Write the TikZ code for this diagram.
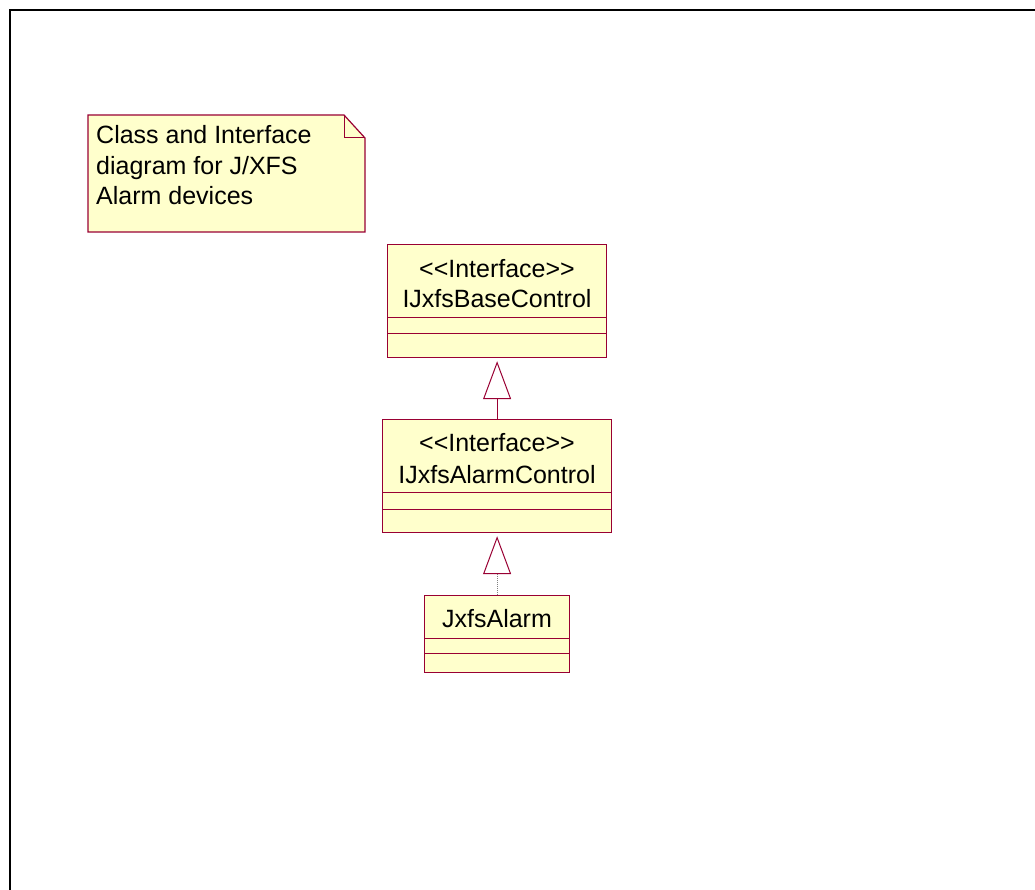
\documentclass[tikz,border=0pt]{standalone}
\usepackage{fontspec}
\setmainfont{Liberation Sans}
\usetikzlibrary{arrows.meta}
\definecolor{umlred}{RGB}{153,0,51}
\definecolor{umlfill}{RGB}{255,255,204}
\tikzset{
  cls/.style={draw=umlred, fill=umlfill, line width=1.2pt, rectangle, inner sep=0pt, anchor=north west},
  txt/.style={font=\fontsize{25}{30}\selectfont, inner sep=0pt, anchor=base},
  ntxt/.style={font=\fontsize{25}{30}\selectfont, inner sep=0pt, anchor=base west},
  comp/.style={draw=umlred, line width=1pt},
  gen/.style={-{Triangle[open, length=38pt, width=28pt, color=umlred]}, shorten >=3pt, line width=1pt}
}
\begin{document}
\begin{tikzpicture}[x=1pt, y=-1pt]
\useasboundingbox (0,0) rectangle (1035,890);
% outer frame
\coordinate (fb) at (10,892);
\coordinate (fc) at (10,10);
\coordinate (fr) at (1037,10);
\draw[line width=2.5pt] (fb) -- (fc) -- (fr);
% note
\coordinate (n1) at (88,115);
\coordinate (n2) at (344,115);
\coordinate (n3) at (365,138);
\coordinate (n4) at (365,232);
\coordinate (n5) at (88,232);
\coordinate (n6) at (344,138);
\filldraw[draw=umlred, fill=umlfill, line width=1.2pt] (n1) -- (n2) -- (n3) -- (n4) -- (n5) -- cycle;
\draw[draw=umlred, line width=1pt] (n2) -- (n6) -- (n3);
\node[ntxt] (noteA) at (96,144) {Class and Interface};
\node[ntxt] (noteB) at (96,175) {diagram for J/XFS};
\node[ntxt] (noteC) at (96,205) {Alarm devices};
% class boxes
\node[cls, minimum width=219pt, minimum height=113pt] (base) at (387,244) {};
\draw[comp] (387,317) -- (606,317);
\draw[comp] (387,333) -- (606,333);
\node[txt] (baseS) at (497,278) {<\kern0pt<Interface>\kern0pt>};
\node[txt] (baseN) at (497,308) {IJxfsBaseControl};

\node[cls, minimum width=229pt, minimum height=113pt] (ctl) at (382,419) {};
\draw[comp] (382,492) -- (611,492);
\draw[comp] (382,509) -- (611,509);
\node[txt] (ctlS) at (497,451) {<\kern0pt<Interface>\kern0pt>};
\node[txt] (ctlN) at (497,483) {IJxfsAlarmControl};

\node[cls, minimum width=145pt, minimum height=77pt] (alarm) at (424,595) {};
\draw[comp] (424,638) -- (569,638);
\draw[comp] (424,653) -- (569,653);
\node[txt] (alarmN) at (497,627) {JxfsAlarm};
% connectors
\draw[gen, draw=umlred] (ctl.north) -- (base.south);
\draw[gen, draw=gray, densely dotted] (alarm.north) -- (ctl.south);
\end{tikzpicture}
\end{document}
